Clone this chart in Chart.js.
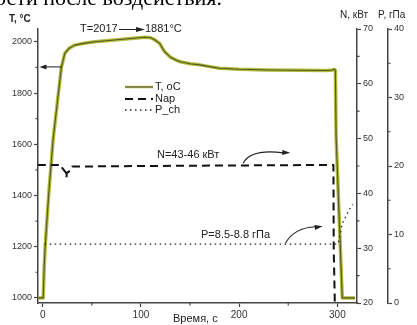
<!DOCTYPE html>
<html>
<head>
<meta charset="utf-8">
<script src="https://cdn.jsdelivr.net/npm/chart.js@4.4.1/dist/chart.umd.min.js"></script>
<style>
  html, body { margin: 0; padding: 0; background: #fff; }
</style>
</head>
<body>
<canvas id="chart" width="417" height="325"></canvas>
<script>
// series (time in s)
const seriesNames = ['T, oC', 'Nap', 'P_ch'];

const timeT = [-5, 0.5, 1.5, 2.5, 6, 10.5, 15, 19, 22.5, 27, 32.6, 42, 53, 70, 90, 104, 110, 114, 119, 124, 130, 136, 140, 150, 160, 170, 180, 200, 228, 260, 290, 295, 297, 298, 298.7, 305, 318];
const tempT = [1000, 1000, 1120, 1200, 1400, 1617, 1767, 1900, 1955, 1975, 1987, 1994, 2000, 2006, 2013, 2018, 2016, 2008, 1994, 1962, 1940, 1928, 1922, 1914, 1910, 1903, 1897, 1893, 1890, 1889, 1888, 1890, 1893, 1888, 1630, 1000, 1000];

const timeN = [-5, 19, 20, 24, 24.2, 24.4, 29, 30, 100, 200, 296, 296.3, 298];
const powerN = [45.2, 45.2, 44.6, 43.7, 42.8, 43.7, 44.3, 44.9, 45.0, 45.1, 45.2, 30, 15];

const timeP = [2, 100, 200, 298, 301, 303, 305, 308.5, 312, 315.5];
const pressP = [8.6, 8.6, 8.6, 8.6, 8.7, 10.3, 11.6, 12.6, 13.6, 14.4];

// tick labels
const xTicks = [0, 100, 200, 300];
const xMinor = [50, 150, 250];
const tTicks = [1000, 1200, 1400, 1600, 1800, 2000];
const tMinor = [1100, 1300, 1500, 1700, 1900];
const nTicks = [20, 30, 40, 50, 60, 70];
const nMinor = [25, 35, 45, 55, 65];
const pTicks = [0, 10, 20, 30, 40];
const pMinor = [5, 15, 25, 35];

const FONT = "'Liberation Sans', Arial, sans-serif";
const axisColor = '#444';
const olive = '#b3bb3e';
const oliveCore = '#55581f';

function pts(xs, ys) {
  return xs.map((x, i) => ({ x: x, y: ys[i] }));
}
function setTicks(list) {
  return (axis) => { axis.ticks = list.map(v => ({ value: v })); };
}
function fixSize(key, size) {
  return (axis) => { axis[key] = size; };
}

function axisOpts(extra, fontSize) {
  return Object.assign({
    type: 'linear',
    grid: { drawOnChartArea: false, drawTicks: true, tickLength: 4, color: axisColor, tickWidth: 1.2 },
    border: { display: true, color: axisColor, width: 1.5 },
    ticks: {
      color: '#333', font: { family: FONT, size: fontSize || 9 }, padding: 2,
      autoSkip: false, maxRotation: 0, callback: (v) => String(v)
    }
  }, extra);
}

function arrowHead(ctx, x, y, ang, len, wid) {
  ctx.beginPath();
  ctx.moveTo(x, y);
  ctx.lineTo(x - len * Math.cos(ang) + wid * Math.sin(ang), y - len * Math.sin(ang) - wid * Math.cos(ang));
  ctx.lineTo(x - len * Math.cos(ang) - wid * Math.sin(ang), y - len * Math.sin(ang) + wid * Math.cos(ang));
  ctx.closePath();
  ctx.fill();
}

const extras = {
  id: 'extras',
  afterDraw(chart) {
    const ctx = chart.ctx;
    const { x, yT, yN, yP } = chart.scales;
    const area = chart.chartArea;
    ctx.save();

    // minor ticks
    ctx.strokeStyle = axisColor;
    ctx.lineWidth = 1.2;
    ctx.beginPath();
    xMinor.forEach(v => { const px = x.getPixelForValue(v); ctx.moveTo(px, area.bottom); ctx.lineTo(px, area.bottom + 2.5); });
    tMinor.forEach(v => { const py = yT.getPixelForValue(v); ctx.moveTo(area.left, py); ctx.lineTo(area.left - 2.5, py); });
    nMinor.forEach(v => { const py = yN.getPixelForValue(v); ctx.moveTo(yN.left, py); ctx.lineTo(yN.left + 2.5, py); });
    pMinor.forEach(v => { const py = yP.getPixelForValue(v); ctx.moveTo(yP.left, py); ctx.lineTo(yP.left + 2.5, py); });
    ctx.stroke();

    // page text cut off above the figure
    ctx.fillStyle = '#000';
    ctx.font = "22px 'Liberation Serif', 'Times New Roman', serif";
    ctx.textAlign = 'left';
    ctx.textBaseline = 'alphabetic';
    ctx.fillText('ости после воздействия.', -5, 5);

    // axis titles
    ctx.fillStyle = '#222';
    ctx.textBaseline = 'middle';
    ctx.font = 'bold 10px ' + FONT;
    ctx.fillText('T, \u00B0C', 9, 19);
    ctx.font = '10px ' + FONT;
    ctx.fillText('N, кВт', 340, 15);
    ctx.fillText('P, гПа', 378, 15);
    ctx.font = '11px ' + FONT;
    ctx.fillText('Время, с', 173, 319);

    // T=2017 -> 1881°C
    ctx.fillStyle = '#222';
    ctx.strokeStyle = '#222';
    ctx.font = '11px ' + FONT;
    ctx.fillText('T=2017', 80, 29);
    ctx.fillText('1881\u00B0C', 145, 29);
    ctx.lineWidth = 1;
    ctx.beginPath();
    ctx.moveTo(119, 29.5); ctx.lineTo(137, 29.5); ctx.stroke();
    arrowHead(ctx, 145, 29.5, 0, 9, 2.5);

    // arrow to T axis
    const ya = yT.getPixelForValue(1902);
    ctx.beginPath();
    ctx.moveTo(x.getPixelForValue(19.5), ya); ctx.lineTo(area.left + 7, ya); ctx.stroke();
    arrowHead(ctx, area.left + 1.5, ya, Math.PI, 7, 2.5);

    // N note
    ctx.fillText('N=43-46 кВт', 157, 155);
    let sx = x.getPixelForValue(204), sy = yN.getPixelForValue(45.5);
    let ex = x.getPixelForValue(250), ey = yN.getPixelForValue(47.4);
    let cx = x.getPixelForValue(212), cy = yN.getPixelForValue(48.2);
    ctx.lineWidth = 1.1;
    ctx.beginPath(); ctx.moveTo(sx, sy); ctx.quadraticCurveTo(cx, cy, ex - 5, ey); ctx.stroke();
    arrowHead(ctx, ex + 2, ey, Math.atan2(ey - cy, ex - cx) * 0.5, 8, 2.5);

    // P note
    ctx.fillText('P=8.5-8.8 гПа', 201, 235);
    sx = x.getPixelForValue(247); sy = yP.getPixelForValue(8.7);
    ex = x.getPixelForValue(283); ey = yP.getPixelForValue(11.2);
    cx = x.getPixelForValue(256); cy = yP.getPixelForValue(11.0);
    ctx.beginPath(); ctx.moveTo(sx, sy); ctx.quadraticCurveTo(cx, cy, ex - 5, ey + 0.5); ctx.stroke();
    arrowHead(ctx, ex + 2, ey, -0.15, 8, 2.5);

    // legend
    const lx = 125, lw = 28, rows = [87, 99, 110];
    const sets = chart.data.datasets;
    ctx.font = '11px ' + FONT;
    ctx.fillStyle = '#222';
    ctx.setLineDash([]);
    ctx.strokeStyle = olive; ctx.lineWidth = 2.5;
    ctx.beginPath(); ctx.moveTo(lx, rows[0]); ctx.lineTo(lx + lw, rows[0]); ctx.stroke();
    ctx.strokeStyle = '#555'; ctx.lineWidth = 1;
    ctx.beginPath(); ctx.moveTo(lx, rows[0]); ctx.lineTo(lx + lw, rows[0]); ctx.stroke();
    [2, 3].forEach((di, k) => {
      const ds = sets[di];
      ctx.strokeStyle = ds.borderColor;
      ctx.lineWidth = ds.borderWidth;
      ctx.setLineDash(ds.borderDash);
      ctx.beginPath(); ctx.moveTo(lx, rows[k + 1]); ctx.lineTo(lx + lw, rows[k + 1]); ctx.stroke();
    });
    ctx.setLineDash([]);
    seriesNames.forEach((name, k) => ctx.fillText(name, lx + lw + 2, rows[k]));

    ctx.restore();
  }
};

const chart = new Chart(document.getElementById('chart'), {
  type: 'line',
  data: {
    datasets: [
      { label: seriesNames[0], data: pts(timeT, tempT), yAxisID: 'yT', borderColor: olive, borderWidth: 3.5, order: 4 },
      { label: seriesNames[0] + ' core', data: pts(timeT, tempT), yAxisID: 'yT', borderColor: oliveCore, borderWidth: 1.1, order: 3 },
      { label: seriesNames[1], data: pts(timeN, powerN), yAxisID: 'yN', borderColor: '#111', borderWidth: 2, borderDash: [8, 5], order: 2 },
      { label: seriesNames[2], data: pts(timeP, pressP), yAxisID: 'yP', borderColor: '#222', borderWidth: 1.3, borderDash: [1.5, 3.5], order: 1 }
    ]
  },
  options: {
    responsive: false,
    animation: false,
    devicePixelRatio: 1,
    layout: { padding: { top: 29, left: 0, right: 0, bottom: 0 } },
    elements: {
      point: { radius: 0 },
      line: { tension: 0, fill: false, borderCapStyle: 'butt', borderJoinStyle: 'round' }
    },
    plugins: { legend: { display: false }, tooltip: { enabled: false }, title: { display: false } },
    scales: {
      x: axisOpts({
        position: 'bottom', min: -4.8, max: 320,
        afterBuildTicks: setTicks(xTicks), afterFit: fixSize('height', 22)
      }, 10),
      yT: axisOpts({
        position: 'left', min: 980, max: 2050,
        afterBuildTicks: setTicks(tTicks), afterFit: fixSize('width', 38)
      }),
      yN: axisOpts({
        position: 'right', weight: 0, min: 20, max: 70,
        afterBuildTicks: setTicks(nTicks), afterFit: fixSize('width', 31)
      }),
      yP: axisOpts({
        position: 'right', weight: 1, min: 0, max: 40,
        afterBuildTicks: setTicks(pTicks), afterFit: fixSize('width', 29)
      })
    }
  },
  plugins: [extras]
});
</script>
</body>
</html>
